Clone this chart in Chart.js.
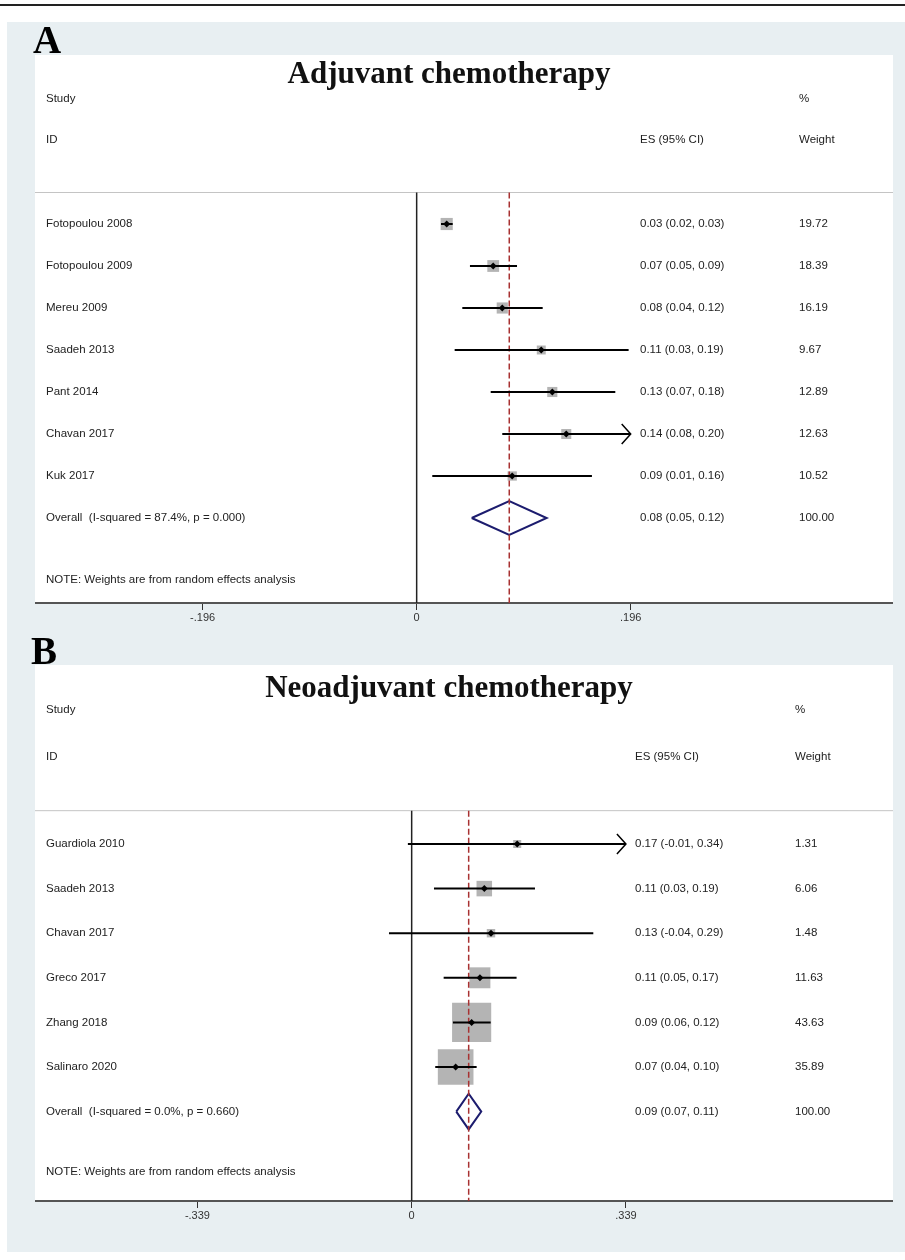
<!DOCTYPE html>
<html>
<head>
<meta charset="utf-8">
<script src="https://cdn.jsdelivr.net/npm/chart.js@4.4.0/dist/chart.umd.min.js"></script>
<style>
  body { margin: 0; background: #fff; width: 905px; height: 1260px; position: relative; overflow: hidden; }
  #topline { position: absolute; left: 0; top: 4px; width: 905px; height: 2px; background: #222; }
  #panel { position: absolute; left: 7px; top: 22px; width: 898px; height: 1230px; background: #e8eff2; }
  .letter { position: absolute; font: bold 39px "Liberation Serif", "Times New Roman", serif; color: #000; line-height: 1; z-index: 2; }
  canvas { position: absolute; left: 35px; }
</style>
</head>
<body>
<div id="topline"></div>
<div id="panel"></div>
<canvas id="forestA" width="858" height="578" style="top:55px"></canvas>
<canvas id="forestB" width="858" height="566" style="top:665px"></canvas>
<div class="letter" style="left:33px; top:20px;">A</div>
<div class="letter" style="left:31px; top:631px;">B</div>
<script>
// Panel A - adjuvant
const studiesA = ['Fotopoulou 2008', 'Fotopoulou 2009', 'Mereu 2009', 'Saadeh 2013', 'Pant 2014', 'Chavan 2017', 'Kuk 2017'];
const esA = [0.0275, 0.0701, 0.0784, 0.1141, 0.1242, 0.137, 0.0875];
const loA = [0.0223, 0.0488, 0.0418, 0.0348, 0.0678, 0.0784, 0.0143];
const hiA = [0.033, 0.0919, 0.1154, 0.1941, 0.1819, 0.20, 0.1605];
const weightsA = [19.72, 18.39, 16.19, 9.67, 12.89, 12.63, 10.52];
const esTextA = ['0.03 (0.02, 0.03)', '0.07 (0.05, 0.09)', '0.08 (0.04, 0.12)', '0.11 (0.03, 0.19)', '0.13 (0.07, 0.18)', '0.14 (0.08, 0.20)', '0.09 (0.01, 0.16)'];
const overallA = [0.0848, 0.0504, 0.119];
const overallTextA = '0.08 (0.05, 0.12)';
const overallLabelA = 'Overall  (I-squared = 87.4%, p = 0.000)';
const xTicksA = [-0.196, 0, 0.196];
const xTickLabelsA = ['-.196', '0', '.196'];

// Panel B - neoadjuvant
const studiesB = ['Guardiola 2010', 'Saadeh 2013', 'Chavan 2017', 'Greco 2017', 'Zhang 2018', 'Salinaro 2020'];
const esB = [0.167, 0.1149, 0.1255, 0.108, 0.0949, 0.0696];
const loB = [-0.006, 0.0353, -0.0359, 0.0506, 0.0653, 0.0373];
const hiB = [0.34, 0.1951, 0.2874, 0.166, 0.125, 0.1028];
const weightsB = [1.31, 6.06, 1.48, 11.63, 43.63, 35.89];
const esTextB = ['0.17 (-0.01, 0.34)', '0.11 (0.03, 0.19)', '0.13 (-0.04, 0.29)', '0.11 (0.05, 0.17)', '0.09 (0.06, 0.12)', '0.07 (0.04, 0.10)'];
const overallB = [0.0902, 0.0706, 0.1101];
const overallTextB = '0.09 (0.07, 0.11)';
const overallLabelB = 'Overall  (I-squared = 0.0%, p = 0.660)';
const xTicksB = [-0.339, 0, 0.339];
const xTickLabelsB = ['-.339', '0', '.339'];

const note = 'NOTE: Weights are from random effects analysis';

forest('forestA', {
  title: 'Adjuvant chemotherapy', studies: studiesA, es: esA, lo: loA, hi: hiA, weights: weightsA,
  esText: esTextA, overall: overallA, overallText: overallTextA, overallLabel: overallLabelA,
  xTicks: xTicksA, xTickLabels: xTickLabelsA,
  xMin: -0.3495, xMax: 0.4362, yMin: -4.024, yMax: 9.024,
  studyRow: -2.988, idRow: -2.012, lineRow: -0.75, noteRow: 8.476,
  titleY: 28, esX: 605, wX: 764, boxScale: 2.4
});

forest('forestB', {
  title: 'Neoadjuvant chemotherapy', studies: studiesB, es: esB, lo: loB, hi: hiB, weights: weightsB,
  esText: esTextB, overall: overallB, overallText: overallTextB, overallLabel: overallLabelB,
  xTicks: xTicksB, xTickLabels: xTickLabelsB,
  xMin: -0.596, xMax: 0.7616, yMin: -4.0135, yMax: 8.0045,
  studyRow: -3.004, idRow: -1.951, lineRow: -0.747, noteRow: 7.354,
  titleY: 32, esX: 600, wX: 760, boxScale: 5.7
});

function forest(id, d) {
  const n = d.studies.length;
  const limit = d.xTicks[d.xTicks.length - 1];
  const pts = d.es.map((v, i) => ({ x: v, y: i }));
  const datasets = [];

  //point estimates (drawn on top)
  datasets.push({ data: pts, pointStyle: 'rectRot', pointRadius: 3.5, backgroundColor: '#000', borderWidth: 0 });
  //confidence intervals
  d.lo.forEach((lo, i) => {
    datasets.push({ data: [{ x: lo, y: i }, { x: Math.min(d.hi[i], limit), y: i }], showLine: true,
      borderColor: '#000', borderWidth: 2, pointRadius: 0 });
  });
  //overall effect line
  datasets.push({ data: [{ x: d.overall[0], y: d.lineRow }, { x: d.overall[0], y: d.yMax }], showLine: true,
    borderColor: '#a83232', borderWidth: 1.5, borderDash: [6, 3], pointRadius: 0 });
  //weight boxes
  datasets.push({ data: pts, pointStyle: 'rect', backgroundColor: '#b4b4b4', borderWidth: 0,
    pointRadius: d.weights.map(w => (1.5 + d.boxScale * Math.sqrt(w)) / Math.SQRT2) });
  //overall diamond
  const o = d.overall;
  datasets.push({ data: [{ x: o[1], y: n }, { x: o[0], y: n - 0.4 }, { x: o[2], y: n }, { x: o[0], y: n + 0.4 }, { x: o[1], y: n }],
    showLine: true, borderColor: '#1c1c6e', borderWidth: 2, pointRadius: 0, borderJoinStyle: 'miter' });
  //null line
  datasets.push({ data: [{ x: 0, y: d.lineRow }, { x: 0, y: d.yMax }], showLine: true,
    borderColor: '#222', borderWidth: 1.5, pointRadius: 0 });
  //header rule
  datasets.push({ data: [{ x: d.xMin, y: d.lineRow }, { x: d.xMax, y: d.lineRow }], showLine: true,
    borderColor: '#c4c4c4', borderWidth: 1, pointRadius: 0 });

  const textPlugin = {
    id: 'forestText',
    beforeDraw(chart) {
      const a = chart.chartArea;
      chart.ctx.save();
      chart.ctx.fillStyle = '#fff';
      chart.ctx.fillRect(a.left, a.top, a.right - a.left, a.bottom - a.top);
      chart.ctx.restore();
    },
    afterDatasetsDraw(chart) {
      const ctx = chart.ctx;
      const x = chart.scales.x, y = chart.scales.y;
      const yp = v => y.getPixelForValue(v);
      ctx.save();
      //arrows for clipped intervals
      ctx.strokeStyle = '#000';
      ctx.lineWidth = 1.5;
      d.hi.forEach((h, i) => {
        if (h > limit) {
          const px = x.getPixelForValue(limit), py = yp(i);
          ctx.beginPath();
          ctx.moveTo(px - 9, py - 10);
          ctx.lineTo(px, py);
          ctx.lineTo(px - 9, py + 10);
          ctx.stroke();
        }
      });
      ctx.fillStyle = '#111';
      ctx.font = 'bold 31px "Liberation Serif", "Times New Roman", serif';
      ctx.textAlign = 'center';
      ctx.textBaseline = 'alphabetic';
      ctx.fillText(d.title, 414, d.titleY);

      ctx.fillStyle = '#222';
      ctx.font = '11.5px "Liberation Sans", Arial, sans-serif';
      ctx.textAlign = 'left';
      ctx.textBaseline = 'middle';
      ctx.fillText('Study', 11, yp(d.studyRow));
      ctx.fillText('%', d.wX, yp(d.studyRow));
      ctx.fillText('ID', 11, yp(d.idRow));
      ctx.fillText('ES (95% CI)', d.esX, yp(d.idRow));
      ctx.fillText('Weight', d.wX, yp(d.idRow));
      d.studies.forEach((s, i) => {
        ctx.fillText(s, 11, yp(i));
        ctx.fillText(d.esText[i], d.esX, yp(i));
        ctx.fillText(d.weights[i].toFixed(2), d.wX, yp(i));
      });
      ctx.fillText(d.overallLabel, 11, yp(n));
      ctx.fillText(d.overallText, d.esX, yp(n));
      ctx.fillText('100.00', d.wX, yp(n));
      ctx.fillText(note, 11, yp(d.noteRow));
      ctx.restore();
    }
  };

  new Chart(document.getElementById(id).getContext('2d'), {
    type: 'scatter',
    data: { datasets },
    options: {
      responsive: false,
      animation: false,
      devicePixelRatio: 1,
      events: [],
      layout: { padding: 0, autoPadding: false },
      plugins: { legend: { display: false }, tooltip: { enabled: false } },
      scales: {
        x: {
          type: 'linear', min: d.xMin, max: d.xMax,
          afterBuildTicks: s => { s.ticks = d.xTicks.map(v => ({ value: v })); },
          afterFit: s => { s.height = 30; },
          ticks: { callback: (v, i) => d.xTickLabels[i], autoSkip: false, maxRotation: 0,
            color: '#333', font: { family: 'Liberation Sans', size: 11 }, padding: 1 },
          grid: { drawOnChartArea: false, drawTicks: true, tickLength: 7, color: '#333', lineWidth: 1 },
          border: { display: true, color: '#555', width: 2 }
        },
        y: { type: 'linear', reverse: true, min: d.yMin, max: d.yMax, display: false }
      }
    },
    plugins: [textPlugin]
  });
}
</script>
</body>
</html>
